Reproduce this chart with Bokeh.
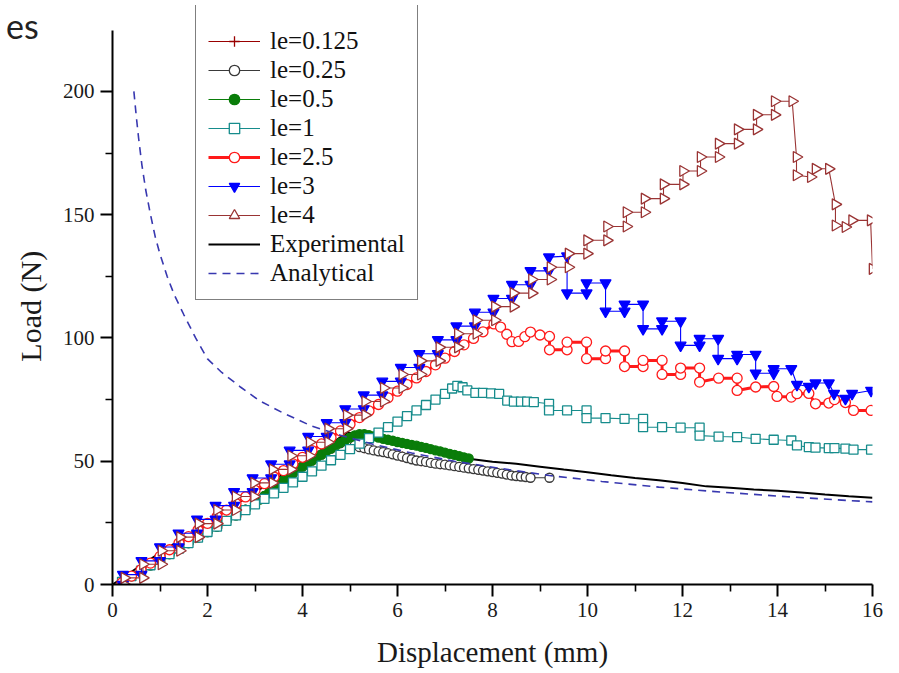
import math
from bokeh.plotting import figure
from bokeh.models import Range1d, FixedTicker, Legend, LegendItem, Div
from bokeh.layouts import column
from bokeh.embed import file_html
from bokeh.resources import INLINE

# ---------------- data ----------------
X_TICKS = [0, 2, 4, 6, 8, 10, 12, 14, 16]
X_MINOR = [1, 3, 5, 7, 9, 11, 13, 15]
Y_TICKS = [0, 50, 100, 150, 200]
Y_MINOR = [25, 75, 125, 175]
Y_AXIS_TOP = 224.7

LE0125_X = [0.3, 0.7, 1.1, 1.5, 1.9, 2.3, 2.7, 3.1, 3.5, 3.9, 4.3, 4.7, 5.0, 5.3, 5.7,
            6.1, 6.5, 6.9, 7.3, 7.7, 8.1, 8.5, 8.8]
LE0125_Y = [2.2, 6.7, 11.2, 15.7, 20.2, 24.6, 29.2, 34.4, 40.6, 46.5, 51.5, 56.2, 57.8, 55.3, 53.7,
            51.9, 50.0, 48.8, 47.7, 46.5, 45.3, 44.0, 43.3]

LE025_X = [0.2, 0.4, 0.6, 0.8, 1.0, 1.2, 1.4, 1.6, 1.8, 2.0, 2.2, 2.4, 2.6, 2.8, 3.0, 3.2, 3.4,
           3.6, 3.8, 4.0, 4.2, 4.4, 4.6, 4.8, 5.0,
           5.1, 5.2, 5.3, 5.4, 5.5, 5.6, 5.7, 5.8, 5.9, 6.0, 6.1, 6.2, 6.3, 6.4, 6.5, 6.6, 6.7,
           6.8, 6.9, 7.0, 7.1, 7.2, 7.3, 7.4, 7.5, 7.6, 7.7, 7.8, 7.9, 8.0, 8.1, 8.2, 8.3, 8.4,
           8.5, 8.6, 8.7, 8.8, 9.2]
LE025_Y = [1.1, 3.4, 5.6, 7.8, 10.1, 12.3, 14.6, 16.8, 19.0, 21.3, 23.5, 25.8, 28.0, 30.4, 33.0,
           35.9, 39.0, 42.2, 45.2, 47.8, 50.3, 52.7, 55.1, 57.3, 58.0,
           56.5, 55.7, 55.3, 54.8, 54.4, 54.0, 53.7, 53.3, 52.8, 52.3, 51.9, 51.3, 50.8, 50.3,
           50.0, 49.7, 49.3, 49.0, 48.8, 48.6, 48.3, 48.0, 47.7, 47.4, 47.1, 46.8, 46.5, 46.2,
           45.9, 45.6, 45.3, 45.0, 44.6, 44.2, 44.0, 43.8, 43.6, 43.3, 43.3]

LE05_X = [0.2, 0.4, 0.6, 0.8, 1.0, 1.2, 1.4, 1.6, 1.8, 2.0, 2.2, 2.4, 2.6, 2.8, 3.0,
          3.1, 3.2, 3.3, 3.4, 3.5, 3.6, 3.7, 3.8, 3.9, 4.0, 4.1, 4.2, 4.3, 4.4, 4.5, 4.6,
          4.7, 4.8, 4.9, 5.0, 5.1, 5.2, 5.3, 5.4, 5.5, 5.6, 5.7, 5.8, 5.9, 6.0, 6.1, 6.2,
          6.3, 6.4, 6.5, 6.6, 6.7, 6.8, 6.9, 7.0, 7.1, 7.2, 7.3, 7.4, 7.5]
LE05_Y = [1.1, 3.4, 5.6, 7.8, 10.1, 12.3, 14.6, 16.8, 19.0, 21.3, 23.5, 25.8, 28.0, 30.4, 33.0,
          34.4, 35.9, 37.4, 39.0, 40.6, 42.2, 43.8, 45.2, 46.5, 47.8,
          49.0, 50.3, 51.5, 52.7, 53.9, 55.1, 56.3, 57.5, 58.6, 59.6,
          60.5, 61.0, 61.0, 60.6, 60.1, 59.6, 59.1, 58.7, 58.3, 57.8,
          57.4, 57.0, 56.6, 56.3, 55.8, 55.4, 54.9, 54.4, 54.0, 53.5,
          53.0, 52.6, 52.1, 51.6, 51.1]

LE1_X = [0.2, 0.4, 0.6, 0.8, 1.0, 1.2, 1.4, 1.6, 1.8, 2.0, 2.2, 2.4, 2.6, 2.8, 3.0, 3.2, 3.4,
         3.6, 3.8, 4.0, 4.2, 4.4, 4.6, 4.8, 5.0, 5.2, 5.4, 5.6, 5.8, 6.0, 6.2, 6.4, 6.6, 6.8, 7.0,
         7.15, 7.26, 7.37, 7.47, 7.64, 7.8, 7.97, 8.14, 8.31, 8.45,
         8.6, 8.73, 8.87, 9.19, 9.19, 9.57, 9.98, 9.98, 10.38, 10.78,
         11.17, 11.17, 11.57, 11.96, 12.36, 12.36, 12.76, 13.15, 13.54, 13.92,
         14.29, 14.41, 14.66, 14.8, 15.08, 15.2, 15.43, 15.6, 15.97]
LE1_Y = [1.1, 3.4, 5.6, 7.8, 10.1, 12.3, 14.6, 16.8, 19.0, 21.3, 23.5, 25.8, 28.0, 30.2, 32.5,
         34.7, 37.0, 39.2, 41.4, 43.7, 45.9, 48.2, 50.4, 52.6, 54.9, 57.1, 59.4, 61.6, 63.8, 66.1,
         68.3, 70.6, 72.8, 75.0, 77.3,
         79.5, 80.6, 80.0, 78.7, 77.7, 77.7, 77.5, 77.3, 74.6, 74.2,
         74.2, 74.2, 74.0, 73.3, 70.6, 70.6, 70.6, 67.5, 67.5, 67.2,
         67.2, 63.8, 63.8, 63.6, 63.6, 60.4, 60.0, 59.8, 59.1, 58.7,
         58.4, 56.4, 55.7, 55.5, 55.3, 55.3, 55.1, 54.7, 54.7]

LE25_X = [0.2, 0.4, 0.6, 0.8, 1.0, 1.2, 1.4, 1.6, 1.8, 2.0, 2.2, 2.4, 2.6, 2.8, 3.0, 3.2, 3.4,
          3.6, 3.8, 4.0, 4.2, 4.4, 4.6, 4.8, 5.0, 5.2, 5.4, 5.6, 5.8, 6.0, 6.2, 6.4, 6.6, 6.8,
          7.0, 7.2, 7.4, 7.6, 7.8,
          8.03, 8.17, 8.3, 8.41, 8.55, 8.68, 8.8, 9.0, 9.2, 9.2,
          9.57, 9.57, 9.98, 9.98, 10.38, 10.38, 10.78, 10.78, 11.17, 11.17,
          11.57, 11.57, 11.96, 11.96, 12.36, 12.36, 12.76, 13.15, 13.15, 13.54,
          13.92, 13.99, 14.29, 14.41, 14.66, 14.8, 15.08, 15.2, 15.43, 15.6, 15.97]
LE25_Y = [0.7, 3.4, 6.0, 8.7, 11.4, 14.1, 16.8, 19.4, 22.1, 24.8, 27.5, 30.2, 32.8, 35.5, 38.2,
          40.9, 43.6, 46.2, 48.9, 51.6, 54.3, 57.0, 59.6, 62.3, 65.0, 67.7, 70.4, 73.0, 75.7,
          78.4, 81.1, 83.8, 86.4, 89.1, 91.8, 94.5, 97.2, 99.8, 102.5,
          105.7, 104.4, 101.5, 98.5, 98.6, 100.5, 102.4, 101.2, 100.6, 95.2,
          95.2, 98.3, 98.3, 91.6, 91.6, 94.7, 94.7, 88.4, 88.4, 90.9,
          90.9, 85.2, 85.2, 87.8, 87.8, 82.1, 83.7, 83.7, 78.7, 80.1,
          80.3, 76.3, 76.0, 77.4, 77.5, 73.3, 73.6, 75.0, 73.8, 70.6, 70.6]

LE3_X = [0.22, 0.22, 0.61, 0.61, 1.0, 1.0, 1.39, 1.39, 1.78, 1.78, 2.17, 2.17, 2.56, 2.56,
         2.95, 2.95, 3.34, 3.34, 3.73, 3.73, 4.12, 4.12, 4.51, 4.51, 4.9, 4.9, 5.29, 5.29,
         5.68, 5.68, 6.07, 6.07, 6.46, 6.46, 6.85, 6.85, 7.24, 7.24, 7.63, 7.63, 8.02, 8.02,
         8.41, 8.41, 8.8, 8.8, 9.19, 9.19,
         9.57, 9.57, 9.98, 9.98, 10.38, 10.38, 10.78, 10.78, 11.17, 11.17, 11.57, 11.57,
         11.96, 11.96, 12.36, 12.36, 12.75, 12.75, 13.15, 13.15, 13.54, 13.54, 13.92, 13.92,
         14.29, 14.41, 14.66, 14.8, 15.08, 15.19, 15.43, 15.57, 15.97]
LE3_Y = [0.0, 4.0, 4.0, 9.6, 9.6, 15.2, 15.2, 20.8, 20.8, 26.4, 26.4, 32.0, 32.0, 37.6,
         37.6, 43.2, 43.2, 48.8, 48.8, 54.4, 54.4, 60.0, 60.0, 65.6, 65.6, 71.2, 71.2, 76.8,
         76.8, 82.4, 82.4, 88.0, 88.0, 93.6, 93.6, 99.2, 99.2, 104.8, 104.8, 110.4, 110.4, 116.0,
         116.0, 121.6, 121.6, 127.2, 127.2, 132.8,
         133.2, 118.2, 118.2, 122.3, 122.3, 110.8, 110.8, 113.6, 113.6, 103.7, 103.7, 106.8,
         106.8, 97.0, 97.0, 99.7, 99.7, 91.6, 91.6, 93.3, 93.3, 85.7, 85.7, 87.5,
         87.5, 81.1, 80.3, 81.7, 81.7, 77.4, 75.4, 77.4, 78.7]

LE4_X = [0.25, 0.25, 0.64, 0.64, 1.03, 1.03, 1.42, 1.42, 1.81, 1.81, 2.2, 2.2, 2.59, 2.59,
         2.98, 2.98, 3.37, 3.37, 3.76, 3.76, 4.15, 4.15, 4.54, 4.54, 4.93, 4.93, 5.32, 5.32,
         5.71, 5.71, 6.1, 6.1, 6.49, 6.49, 6.88, 6.88, 7.27, 7.27, 7.66, 7.66, 8.05, 8.05,
         8.44, 8.44, 8.83, 8.83, 9.22, 9.22, 9.6, 9.6, 9.99, 9.99, 10.41, 10.41, 10.82, 10.82,
         11.2, 11.2, 11.6, 11.6, 12.01, 12.01, 12.38, 12.38, 12.76, 12.76, 13.16, 13.16,
         13.56, 13.56, 13.94, 13.94, 14.31,
         14.4, 14.4, 14.7, 14.8, 15.08, 15.22, 15.22, 15.43, 15.57, 15.96, 16.0]
LE4_Y = [0.0, 2.7, 2.7, 8.2, 8.2, 13.7, 13.7, 19.2, 19.2, 24.7, 24.7, 30.2, 30.2, 35.7,
         35.7, 41.2, 41.2, 46.7, 46.7, 52.2, 52.2, 57.7, 57.7, 63.2, 63.2, 68.7, 68.7, 74.2,
         74.2, 79.7, 79.7, 85.2, 85.2, 90.7, 90.7, 96.2, 96.2, 101.7, 101.7, 107.2, 107.2, 112.7,
         112.7, 118.2, 118.2, 123.7, 123.7, 128.7, 128.7, 134.2, 134.2, 139.6, 139.6, 145.2,
         145.2, 151.0, 151.0, 156.5, 156.5, 162.3, 162.3, 167.7, 167.7, 173.4, 173.4, 178.8,
         178.8, 184.6, 184.6, 190.5, 190.5, 196.0, 196.0,
         173.4, 166.0, 165.3, 168.6, 168.6, 154.2, 145.6, 145.0, 147.7, 147.7, 128.0]

EXP_X = [0, 0.5, 1.0, 1.5, 2.0, 2.5, 3.0, 3.5, 4.0, 4.5, 4.95, 5.2, 5.6, 6.0, 6.5, 7.0, 7.5,
         8.0, 8.5, 9.0, 9.5, 10.0, 10.5, 11.0, 11.5, 12.0, 12.5, 13.0, 13.5, 14.0, 14.5, 15.0,
         15.5, 16.0]
EXP_Y = [0, 6.5, 12.8, 19.0, 25.2, 31.3, 37.4, 43.6, 49.7, 55.8, 61.7, 60.5, 59.0, 57.5, 55.5,
         53.5, 51.0, 49.8, 49.0, 47.8, 46.6, 45.5, 44.3, 43.2, 42.3, 41.2, 39.8, 39.2, 38.5,
         38.0, 37.3, 36.5, 35.8, 35.2]

ANA_X = [0.45, 0.5, 0.55, 0.62, 0.7, 0.8, 0.9, 1.0, 1.15, 1.3, 1.5, 1.75, 2.0, 2.3, 2.7, 3.1,
         3.6, 4.2, 4.8, 5.5, 6.3, 7.2, 8.2, 9.2, 10.3, 11.5, 12.8, 14.2, 15.2, 16.0]
ANA_Y = [200, 190, 181, 170, 160, 150, 141, 134, 125, 117.5, 109.5, 100, 91.5, 86, 80, 74.5,
         69.5, 64.2, 60.5, 56.8, 53.3, 50, 47, 44.2, 41.8, 39.5, 37.5, 35.6, 34.4, 33.5]

LABELS = ["le=0.125", "le=0.25", "le=0.5", "le=1", "le=2.5", "le=3", "le=4",
          "Experimental", "Analytical"]
X_LABEL = "Displacement (mm)"
Y_LABEL = "Load (N)"
CORNER_TEXT = "es"

for a, b in [(LE0125_X, LE0125_Y), (LE025_X, LE025_Y), (LE05_X, LE05_Y), (LE1_X, LE1_Y),
             (LE25_X, LE25_Y), (LE3_X, LE3_Y), (LE4_X, LE4_Y), (EXP_X, EXP_Y), (ANA_X, ANA_Y)]:
    assert len(a) == len(b), (len(a), len(b))

# ---------------- figure ----------------
SERIF = "'Liberation Serif'"

# frame reaches up to the legend's top edge; the left axis itself stops at Y_AXIS_TOP
p = figure(width=899, height=673, output_backend="svg", toolbar_location=None,
           x_range=Range1d(0, 16), y_range=Range1d(0, 234.84),
           min_border_left=112, min_border_right=27, min_border_top=5,
           min_border_bottom=89)
p.outline_line_color = None
p.grid.visible = False
p.background_fill_color = "white"
p.border_fill_color = "white"

for ax in (p.xaxis[0], p.yaxis[0]):
    ax.axis_line_width = 2
    ax.axis_line_color = "black"
    ax.major_tick_line_width = 2
    ax.minor_tick_line_width = 1.6
    ax.major_tick_out = 12
    ax.major_tick_in = 0
    ax.minor_tick_out = 7
    ax.minor_tick_in = 0
    ax.major_label_text_font = SERIF
    ax.major_label_text_font_size = "21px"
    ax.major_label_text_color = "#1a1a1a"
    ax.major_label_standoff = 6
    ax.axis_label_text_font = SERIF
    ax.axis_label_text_font_style = "normal"
    ax.axis_label_text_color = "#1a1a1a"
p.xaxis.ticker = FixedTicker(ticks=X_TICKS, minor_ticks=X_MINOR)
p.yaxis.ticker = FixedTicker(ticks=Y_TICKS, minor_ticks=Y_MINOR)
p.yaxis.bounds = (0, Y_AXIS_TOP)
p.xaxis.axis_label = X_LABEL
# trailing no-break spaces move the rotated title a little down, as in the reference
p.yaxis.axis_label = Y_LABEL + "\u00a0\u00a0\u00a0"
p.xaxis.axis_label_text_font_size = "29px"
p.yaxis.axis_label_text_font_size = "30px"
p.xaxis.axis_label_standoff = 16
p.yaxis.axis_label_standoff = 13


def series(x, y, color, marker, size, lw, fill, angle=0.0, mlw=1.3):
    ln = p.line(x, y, line_color=color, line_width=lw)
    sc = p.scatter(x, y, marker=marker, size=size, line_color=color, fill_color=fill,
                   line_width=mlw, angle=angle)
    return [ln, sc]


# the experimental curve lies underneath the simulated series
rexp = [p.line(EXP_X, EXP_Y, line_color="black", line_width=2.0)]
r0125 = series(LE0125_X, LE0125_Y, "#990000", "cross", 10, 1.1, None)
r025 = series(LE025_X, LE025_Y, "#3a3a3a", "circle", 9, 1.1, "white")
r05 = series(LE05_X, LE05_Y, "#0a7d0a", "circle", 9, 1.1, "#0a7d0a")
r1 = series(LE1_X, LE1_Y, "#168c8c", "square", 9, 1.1, "white")
r25 = series(LE25_X, LE25_Y, "#ff1a1a", "circle", 10, 3, "white")
r3 = series(LE3_X, LE3_Y, "#0000ff", "inverted_triangle", 11, 1.1, "#0000ff")
r4 = series(LE4_X, LE4_Y, "#9a3434", "triangle", 11, 1.1, "white", angle=-math.pi / 2)
rana = [p.line(ANA_X, ANA_Y, line_color="#3838b0", line_width=1.6, line_dash="8 6")]

groups = [r0125, r025, r05, r1, r25, r3, r4, rexp, rana]
legend = Legend(items=[LegendItem(label=lab, renderers=g) for lab, g in zip(LABELS, groups)],
                location=(83, 284), orientation="vertical")
legend.border_line_color = "black"
legend.border_line_width = 1.2
legend.background_fill_color = "white"
legend.background_fill_alpha = 1.0
legend.label_text_font = SERIF
legend.label_text_font_size = "25px"
legend.label_text_color = "#111111"
legend.glyph_width = 52
legend.glyph_height = 26
legend.label_height = 26
legend.spacing = 1
legend.padding = 12
legend.margin = 0
legend.label_standoff = 10
legend.title = " "
legend.title_text_font_size = "12px"
legend.title_standoff = 3
p.add_layout(legend)

# cut-off slide text in the top-left corner (outside the plot frame)
corner = Div(text=CORNER_TEXT, styles={
    "position": "absolute", "left": "1px", "top": "0px", "z-index": "5",
    "font-family": "Lato, 'Open Sans', sans-serif", "font-size": "34px",
    "color": "#222222", "line-height": "normal"})

root = column(p, corner)
open("out.html", "w").write(file_html(root, INLINE))
